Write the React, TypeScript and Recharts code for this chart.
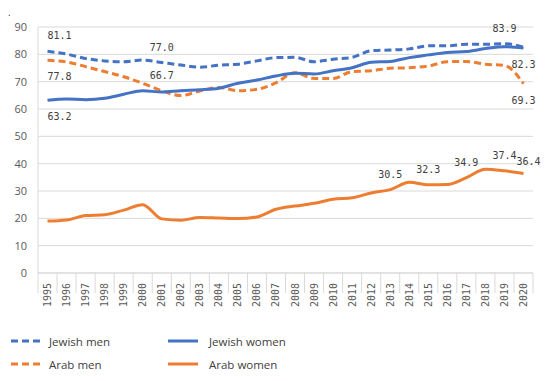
import React from 'react';
import { LineChart, Line, XAxis, YAxis, CartesianGrid, LabelList } from 'recharts';

const years = [1995, 1996, 1997, 1998, 1999, 2000, 2001, 2002, 2003, 2004, 2005, 2006, 2007, 2008, 2009, 2010, 2011, 2012, 2013, 2014, 2015, 2016, 2017, 2018, 2019, 2020];
const jewishMen = [81.1, 80.1, 78.5, 77.6, 77.3, 77.9, 77.0, 76.1, 75.3, 76.0, 76.4, 77.6, 78.8, 78.9, 77.3, 78.2, 78.9, 81.3, 81.6, 82.0, 83.1, 83.1, 83.7, 83.7, 83.9, 82.6];
const jewishWomen = [63.2, 63.7, 63.4, 63.9, 65.4, 66.7, 66.2, 66.7, 67.0, 67.6, 69.4, 70.6, 72.1, 73.1, 72.8, 74.0, 75.1, 77.1, 77.4, 78.8, 79.8, 80.7, 81.0, 82.1, 82.8, 82.3];
const arabMen = [77.8, 77.2, 75.5, 73.7, 71.8, 69.4, 66.7, 64.9, 66.6, 67.9, 66.7, 67.2, 69.6, 73.3, 71.2, 71.2, 73.7, 74.0, 74.9, 75.1, 75.7, 77.3, 77.4, 76.4, 75.9, 69.3];
const arabWomen = [19.0, 19.4, 21.0, 21.3, 23.0, 25.0, 19.8, 19.3, 20.3, 20.1, 19.9, 20.5, 23.3, 24.5, 25.5, 27.0, 27.5, 29.3, 30.5, 33.2, 32.3, 32.4, 34.9, 38.0, 37.4, 36.4];
const yTicks = [0, 10, 20, 30, 40, 50, 60, 70, 80, 90];

const data = years.map((y, i) => ({
  year: String(y),
  jm: jewishMen[i],
  jw: jewishWomen[i],
  am: arabMen[i],
  aw: arabWomen[i],
}));

const BLUE = '#4472C4';
const ORANGE = '#ED7D31';

type LabelCfg = { [year: string]: { pos: 'above' | 'below'; dx?: number; dy?: number } };

const jmLabels: LabelCfg = { '1995': { pos: 'above', dx: 12 }, '2001': { pos: 'above' }, '2019': { pos: 'above' } };
const jwLabels: LabelCfg = { '1995': { pos: 'below', dx: 12 }, '2020': { pos: 'below' } };
const amLabels: LabelCfg = { '1995': { pos: 'below', dx: 12 }, '2001': { pos: 'above' }, '2020': { pos: 'below' } };
const awLabels: LabelCfg = { '2013': { pos: 'above' }, '2015': { pos: 'above' }, '2017': { pos: 'above' }, '2019': { pos: 'above' }, '2020': { pos: 'above', dx: 5, dy: 3 } };

const makeLabel = (cfg: LabelCfg) => (props: any) => {
  const { x, y, value, index } = props;
  const yr = years[index];
  const c = cfg[String(yr)];
  if (!c || value == null) return null;
  const off = c.pos === 'above' ? -15 : 17;
  return (
    <text
      x={x + (c.dx || 0)}
      y={y + off + (c.dy || 0)}
      textAnchor="middle"
      dominantBaseline="middle"
      fontFamily="'DejaVu Sans Mono', monospace"
      fontSize={10}
      fill="#404040"
    >
      {Number(value).toFixed(1)}
    </text>
  );
};

const XTick = (props: any) => {
  const { x, y, payload, index, visibleTicksCount } = props;
  const off = payload && payload.offset ? payload.offset : 9.5;
  const isLast = index === (visibleTicksCount ? visibleTicksCount - 1 : years.length - 1);
  return (
    <g>
      <line x1={x - off} x2={x - off} y1={y} y2={y + 20} stroke="#d9d9d9" />
      {isLast && <line x1={x + off} x2={x + off} y1={y} y2={y + 20} stroke="#d9d9d9" />}
      <text
        transform={`translate(${x}, ${y + 10}) rotate(-90)`}
        textAnchor="end"
        dy="0.35em"
        fontFamily="'DejaVu Sans Mono', monospace"
        fontSize={10}
        fill="#595959"
      >
        {payload.value}
      </text>
    </g>
  );
};

const legendItems = [
  { name: 'Jewish men', color: BLUE, dashed: true, left: 11, top: 341 },
  { name: 'Jewish women', color: BLUE, dashed: false, left: 168, top: 341 },
  { name: 'Arab men', color: ORANGE, dashed: true, left: 11, top: 364 },
  { name: 'Arab women', color: ORANGE, dashed: false, left: 168, top: 364 },
];

export default function App() {
  return (
    <div style={{ position: 'absolute', left: 0, top: 0, width: 552, height: 381, background: '#fff', overflow: 'hidden' }}>
      <span style={{ position: 'absolute', left: 8, top: 5, fontSize: 10, color: '#404040', fontFamily: 'Open Sans' }}>.</span>
      <LineChart width={552} height={381} data={data} margin={{ top: 27, right: 19, bottom: 68, left: 0 }}>
        <CartesianGrid vertical={false} stroke="#d9d9d9" />
        <XAxis
          dataKey="year"
          scale="band"
          interval={0}
          height={40}
          axisLine={{ stroke: '#d9d9d9' }}
          tickLine={false}
          tickSize={0}
          tickMargin={0}
          tick={<XTick />}
        />
        <YAxis
          domain={[0, 90]}
          ticks={yTicks}
          width={38}
          axisLine={{ stroke: '#d9d9d9' }}
          tickLine={false}
          tickSize={0}
          tickMargin={11}
          tick={{ fill: '#595959', fontSize: 11, fontFamily: 'Open Sans' }}
        />
        <Line type="monotone" dataKey="aw" stroke={ORANGE} strokeWidth={3} dot={false} isAnimationActive={false}>
          <LabelList dataKey="aw" content={makeLabel(awLabels)} />
        </Line>
        <Line type="monotone" dataKey="am" stroke={ORANGE} strokeWidth={3} strokeDasharray="7 4" dot={false} isAnimationActive={false}>
          <LabelList dataKey="am" content={makeLabel(amLabels)} />
        </Line>
        <Line type="monotone" dataKey="jw" stroke={BLUE} strokeWidth={3} dot={false} isAnimationActive={false}>
          <LabelList dataKey="jw" content={makeLabel(jwLabels)} />
        </Line>
        <Line type="monotone" dataKey="jm" stroke={BLUE} strokeWidth={3} strokeDasharray="7 4" dot={false} isAnimationActive={false}>
          <LabelList dataKey="jm" content={makeLabel(jmLabels)} />
        </Line>
      </LineChart>
      {legendItems.map((it) => (
        <div key={it.name} style={{ position: 'absolute', left: it.left, top: it.top - 9, height: 18, display: 'flex', alignItems: 'center' }}>
          <svg width={30} height={6} style={{ display: 'block' }}>
            <line x1={0} x2={30} y1={3} y2={3} stroke={it.color} strokeWidth={3} strokeDasharray={it.dashed ? '7 4' : undefined} />
          </svg>
          <span style={{ marginLeft: it.dashed ? 8 : 11, fontFamily: 'Open Sans', fontSize: 11.5, color: '#404040' }}>{it.name}</span>
        </div>
      ))}
    </div>
  );
}
